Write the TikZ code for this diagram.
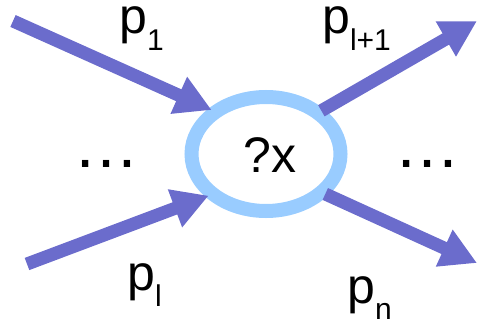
\documentclass[tikz,border=0pt]{standalone}
\usepackage{fontspec}
\setmainfont{Liberation Sans}
\usetikzlibrary{arrows.meta,shapes.geometric}
\newcommand{\mom}[1]{p\raisebox{-0.32em}{\fontsize{30}{30}\selectfont #1}}

\begin{document}
\begin{tikzpicture}[x=1pt,y=-1pt,
    leg/.style={line width=13pt,color=legblue,-{Triangle[width=38pt,length=36pt]}},
    lbl/.style={font=\fontsize{50}{60}\selectfont,inner sep=0pt,anchor=base west},
    dots/.style={font=\fontsize{66}{70}\selectfont,inner sep=0pt,anchor=base}]
    \definecolor{legblue}{RGB}{107,108,204}
    \definecolor{ringblue}{RGB}{153,204,255}

    \useasboundingbox (0,0) rectangle (478,321);

    \node [ellipse,draw=ringblue,line width=14pt,minimum width=149pt,minimum height=114pt,inner sep=0pt,outer sep=4pt] (vertex) at (266,154) {};
    \node [font=\fontsize{50}{60}\selectfont,inner sep=0pt,anchor=base] (name) at (270,172) {?x};

    \coordinate (in1) at (13,21);
    \coordinate (inl) at (27,264);
    \coordinate (outl1) at (477,21);
    \coordinate (outn) at (477,263);

    \draw [leg] (in1) -- (vertex.141);
    \draw [leg] (inl) -- (vertex.216);
    \draw [leg] (vertex.38) -- (outl1);
    \draw [leg] (vertex.-34) -- (outn);

    \node [lbl] (p1) at (119,34) {\mom{1}};
    \node [lbl] (pl1) at (322,34) {\mom{l+1}};
    \node [lbl] (pl) at (127,290) {\mom{l}};
    \node [lbl] (pn) at (347,303) {\mom{n}};

    \node [dots] (ldots) at (106,167) {…};
    \node [dots] (rdots) at (427,167) {…};
\end{tikzpicture}
\end{document}
